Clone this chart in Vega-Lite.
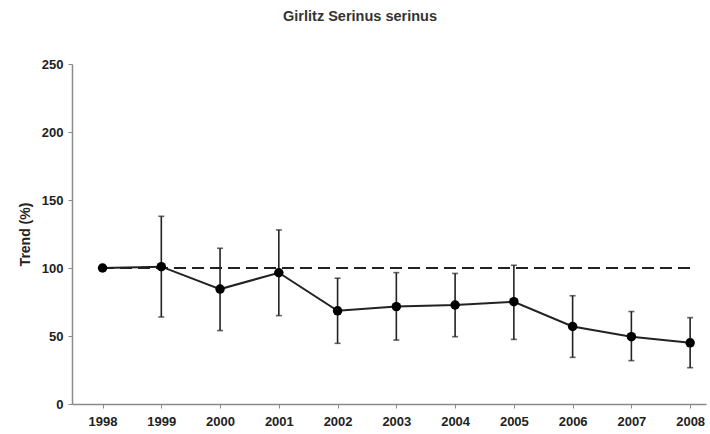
{
  "$schema": "https://vega.github.io/schema/vega-lite/v6.json",
  "width": 634,
  "height": 340,
  "autosize": "none",
  "padding": {"left": 72, "top": 64, "right": 4, "bottom": 30},
  "background": "white",
  "config": {
    "view": {"stroke": null},
    "font": "Liberation Sans",
    "axis": {"grid": false, "domainColor": "#8a8a8a", "domainWidth": 1.5, "tickColor": "#8a8a8a", "tickWidth": 1, "labelFont": "Liberation Sans", "labelFontWeight": "bold", "labelFontSize": 13, "labelColor": "#222", "titleFont": "Liberation Sans", "titleFontWeight": "bold", "titleFontSize": 14, "titleColor": "#222"}
  },
  "title": {"text": "Girlitz Serinus serinus", "fontSize": 14.5, "fontWeight": "bold", "color": "#333", "font": "Liberation Sans", "anchor": "middle", "dx": -29, "offset": 34},
  "data": {"values": [
    {"year": 1998, "trend": 100, "lo": null, "hi": null},
    {"year": 1999, "trend": 101, "lo": 64, "hi": 138},
    {"year": 2000, "trend": 84.5, "lo": 54, "hi": 114.5},
    {"year": 2001, "trend": 96.5, "lo": 65, "hi": 128},
    {"year": 2002, "trend": 68.5, "lo": 44.6, "hi": 92.5},
    {"year": 2003, "trend": 71.6, "lo": 47, "hi": 96.6},
    {"year": 2004, "trend": 72.8, "lo": 49.5, "hi": 96},
    {"year": 2005, "trend": 75.2, "lo": 47.5, "hi": 102},
    {"year": 2006, "trend": 57, "lo": 34.3, "hi": 79.6},
    {"year": 2007, "trend": 49.5, "lo": 31.9, "hi": 68},
    {"year": 2008, "trend": 45, "lo": 26.7, "hi": 63.5}
  ]},
  "encoding": {
    "x": {"field": "year", "type": "quantitative", "scale": {"domain": [1997.48, 2008.27], "nice": false, "zero": false},
      "axis": {"title": null, "format": "d", "values": [1998,1999,2000,2001,2002,2003,2004,2005,2006,2007,2008], "tickSize": 4, "labelPadding": 7, "labelFlush": false}}
  },
  "layer": [
    {
      "mark": {"type": "rule", "color": "#222", "strokeWidth": 2, "strokeDash": [11, 7]},
      "encoding": {"y": {"datum": 100, "type": "quantitative"}, "x": {"datum": 1998, "type": "quantitative"}, "x2": {"datum": 2008}}
    },
    {
      "transform": [{"filter": "datum.lo != null"}],
      "mark": {"type": "rule", "color": "#222", "strokeWidth": 1.6},
      "encoding": {"y": {"field": "lo", "type": "quantitative"}, "y2": {"field": "hi"}}
    },
    {
      "transform": [{"filter": "datum.lo != null"}],
      "mark": {"type": "tick", "orient": "horizontal", "color": "#222", "size": 6, "thickness": 1.6},
      "encoding": {"y": {"field": "lo", "type": "quantitative"}}
    },
    {
      "transform": [{"filter": "datum.lo != null"}],
      "mark": {"type": "tick", "orient": "horizontal", "color": "#222", "size": 6, "thickness": 1.6},
      "encoding": {"y": {"field": "hi", "type": "quantitative"}}
    },
    {
      "mark": {"type": "line", "color": "#222", "strokeWidth": 2},
      "encoding": {"y": {"field": "trend", "type": "quantitative"}}
    },
    {
      "mark": {"type": "point", "filled": true, "color": "#000", "opacity": 1, "size": 90},
      "encoding": {"y": {"field": "trend", "type": "quantitative", "scale": {"domain": [0, 250], "nice": false},
        "axis": {"title": "Trend (%)", "values": [0, 50, 100, 150, 200, 250], "tickSize": 4, "labelPadding": 5, "titlePadding": 9}}}
    }
  ]
}
